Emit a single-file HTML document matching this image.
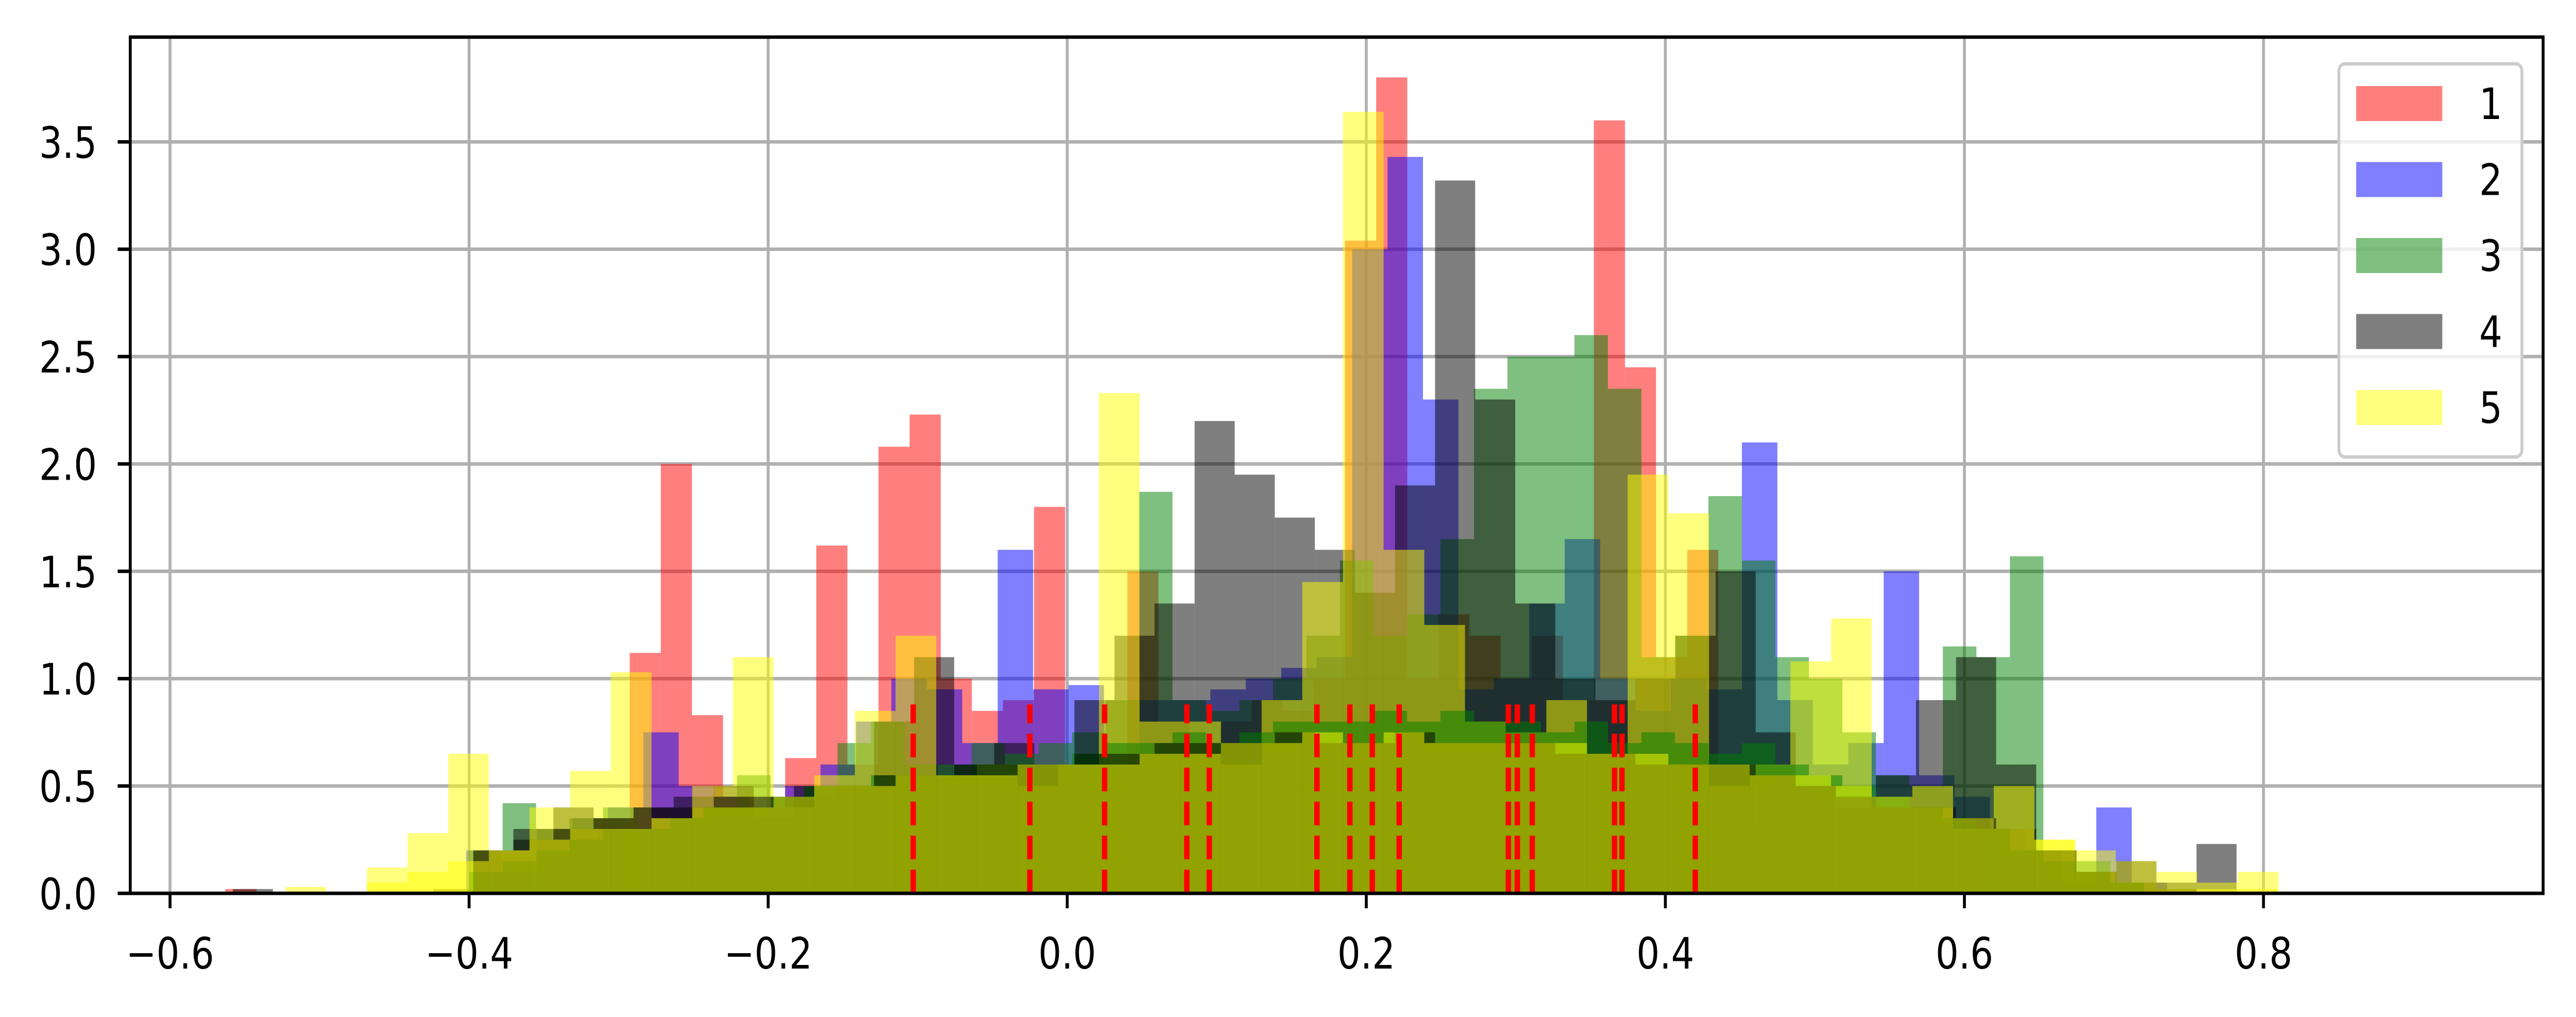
<!DOCTYPE html>
<html><head><meta charset="utf-8"><style>
html,body{margin:0;padding:0;background:#fff;width:100%;height:100%;overflow:hidden;}
svg{display:block;width:100vw;height:100vh;}
text{font-family:"DejaVu Sans","Liberation Sans",sans-serif;}
</style></head>
<body>
<svg id="chart" xmlns="http://www.w3.org/2000/svg" viewBox="0 0 5953 1974" preserveAspectRatio="none">
<rect x="0" y="0" width="5953" height="1974" fill="#fff"/>
<g id="grid"></g>
<g id="bars"></g>
<g id="vlines"></g>
<g id="axes"></g>
<g id="legend"></g>
</svg>
<script>
const xTicks = [-0.6,-0.4,-0.2,0.0,0.2,0.4,0.6,0.8];
const xTickLabels = ["\u22120.6","\u22120.4","\u22120.2","0.0","0.2","0.4","0.6","0.8"];
const yTicks = [0,0.5,1.0,1.5,2.0,2.5,3.0,3.5];
const yTickLabels = ["0.0","0.5","1.0","1.5","2.0","2.5","3.0","3.5"];
const seriesLabels = ["1","2","3","4","5"];

const redStart = -0.563, redWidth = 0.0208;
const redValues = [0.02,0,0,0,0,0,0,0,0,0,0,0,0.32,1.12,2.0,0.83,0.45,0.4,0.63,1.62,0.6,2.08,2.23,1.0,0.85,0.9,1.8,0.5,0.55,1.5,0.8,0.7,0.8,0.9,0.85,1.0,3.04,3.8,1.0,1.3,1.2,1.0,1.2,0.9,3.6,2.45,1.1,1.6,0.6,0.3];
const blueStart = -0.402, blueWidth = 0.0237;
const blueValues = [0.2,0.1,0.3,0.35,0.4,0.75,0.5,0.45,0.4,0.5,0.6,0.8,1.0,0.95,0.7,1.6,0.95,0.97,0.6,0.9,0.9,0.95,1.0,1.05,1.1,3.0,3.43,2.3,0.95,1.0,1.35,1.65,1.0,0.85,1.0,0.95,2.1,0.9,0.6,0.7,1.5,0.55,0.45,0.3,0.2,0.05,0.4,0.05];
const greenStart = -0.40, greenWidth = 0.0224;
const greenValues = [0.2,0.42,0.3,0.35,0.4,0.3,0.35,0.4,0.55,0.45,0.5,0.7,0.8,0.6,0.55,0.7,0.6,0.7,0.75,0.9,1.87,0.9,0.85,0.9,1.0,1.2,1.55,1.2,1.3,1.65,2.35,2.5,2.5,2.6,2.35,1.1,1.2,1.85,1.55,1.1,1.0,0.75,0.55,0.5,1.15,1.1,1.57,0.2,0.15,0.05];
const grayStart = -0.558, grayWidth = 0.0268;
const grayValues = [0.02,0,0,0,0,0.02,0.2,0.3,0.4,0.35,0.4,0.45,0.5,0.35,0.45,0.5,0.8,1.1,0.6,0.7,0.6,0.9,1.2,1.35,2.2,1.95,1.75,1.6,1.4,1.9,3.32,2.3,1.35,1.0,0.9,1.0,1.2,1.5,0.75,0.5,0.4,0.55,0.9,1.1,0.6,0.2,0.1,0.15,0.05,0.23];
const yellowStart = -0.55, yellowWidth = 0.0272;
const yellowValues = [0,0.03,0,0.12,0.28,0.65,0.2,0.4,0.57,1.03,0.35,0.5,1.1,0.4,0.55,0.85,1.2,0.55,0.6,0.5,0.6,2.33,0.8,0.8,0.6,0.9,1.45,3.64,1.6,1.25,0.8,0.75,0.9,0.65,1.95,1.77,0.5,0.6,1.08,1.28,0.4,0.5,0.3,0.5,0.25,0.1,0.05,0.02,0.02,0.1];
const extraGreenValues = [0.1,0.15,0.2,0.25,0.3,0.3,0.35,0.4,0.4,0.45,0.5,0.5,0.55,0.55,0.6,0.6,0.65,0.6,0.65,0.7,0.7,0.75,0.7,0.75,0.8,0.8,0.8,0.85,0.8,0.85,0.8,0.8,0.75,0.8,0.7,0.75,0.7,0.65,0.7,0.6,0.55,0.5,0.45,0.4,0.35,0.3,0.2,0.15,0.1,0.05];
const extraYellowValues = [0,0,0,0.05,0.1,0.15,0.2,0.25,0.3,0.3,0.35,0.4,0.4,0.45,0.5,0.5,0.55,0.55,0.55,0.6,0.6,0.6,0.65,0.65,0.7,0.7,0.75,0.7,0.75,0.7,0.7,0.7,0.7,0.65,0.65,0.6,0.6,0.55,0.55,0.5,0.45,0.4,0.35,0.3,0.25,0.2,0.15,0.1,0.05,0.02];
const extraGrayValues = [0,0,0,0,0,0,0.2,0.25,0.3,0.35,0.4,0.4,0.45,0.45,0.5,0.5,0.55,0.55,0.6,0.6,0.6,0.65,0.65,0.7,0.7,0.7,0.75,0.7,0.7,0.75,0.7,0.7,0.7,0.65,0.65,0.6,0.6,0.6,0.55,0.5,0.45,0.4,0.4,0.35,0.3,0.2,0.1,0.05,0.02,0];
const vlinePositions = [-0.103,-0.025,0.025,0.080,0.095,0.167,0.189,0.204,0.222,0.295,0.301,0.311,0.366,0.371,0.420];
const vlineHeight = 0.88;

const NS = "http://www.w3.org/2000/svg";
const L = 301, R = 5877, T = 72, B = 1734;
const xMin = -0.6266, xMax = 0.987, yMin = 0, yMax = 3.988;
function X(v){ return L + (v - xMin) / (xMax - xMin) * (R - L); }
function Y(v){ return B - (v - yMin) / (yMax - yMin) * (B - T); }
function mk(tag, attrs, parent){ const e = document.createElementNS(NS, tag); for (const k in attrs) e.setAttribute(k, attrs[k]); parent.appendChild(e); return e; }

const grid = document.getElementById('grid');
xTicks.forEach(function(t){
  const g = mk('line', {x1:X(t), x2:X(t), y1:T, y2:B, stroke:'#b0b0b0', 'stroke-width':6.7}, grid);
  
  
});
yTicks.forEach(function(t){
  const g = mk('line', {x1:L, x2:R, y1:Y(t), y2:Y(t), stroke:'#b0b0b0', 'stroke-width':6.7}, grid);
  
  
});

const bars = document.getElementById('bars');
function drawHist(start, width, values, color, name){
  values.forEach(function(v, i){
    if (v <= 0) return;
    const x0 = X(start + i * width), x1 = X(start + (i + 1) * width);
    const r = mk('rect', {x:x0, y:Y(v), width:x1 - x0, height:Y(0) - Y(v), fill:color, 'fill-opacity':0.5}, bars);
    
    
  });
}
drawHist(redStart, redWidth, redValues, '#ff0000', 'bar-series-1');
drawHist(blueStart, blueWidth, blueValues, '#0000ff', 'bar-series-2');
drawHist(greenStart, greenWidth, greenValues, '#008000', 'bar-series-3');
drawHist(grayStart, grayWidth, grayValues, '#000000', 'bar-series-4');
drawHist(yellowStart, yellowWidth, yellowValues, '#ffff00', 'bar-series-5');
drawHist(greenStart, greenWidth, extraGreenValues, '#008000', 'bar-base-green');
drawHist(grayStart, grayWidth, extraGrayValues, '#000000', 'bar-base-gray');
drawHist(yellowStart, yellowWidth, extraYellowValues, '#ffff00', 'bar-base-yellow');

const vl = document.getElementById('vlines');
vlinePositions.forEach(function(p){
  const l = mk('line', {x1:X(p), x2:X(p), y1:Y(0), y2:Y(vlineHeight), stroke:'#ff0000', 'stroke-width':12.5, 'stroke-dasharray':'46 20'}, vl);
  
  
});

const axes = document.getElementById('axes');
const frame = mk('rect', {x:L, y:T, width:R - L, height:B - T, fill:'none', stroke:'#000', 'stroke-width':6.7}, axes);


xTicks.forEach(function(t, i){
  const tk = mk('line', {x1:X(t), x2:X(t), y1:B, y2:B + 29, stroke:'#000', 'stroke-width':6.7}, axes);
  
  
  const tx = mk('text', {x:X(t), y:1880, 'font-size':84, 'text-anchor':'middle', fill:'#000'}, axes);
  tx.textContent = xTickLabels[i];
  
  
});
yTicks.forEach(function(t, i){
  const tk = mk('line', {x1:L - 29, x2:L, y1:Y(t), y2:Y(t), stroke:'#000', 'stroke-width':6.7}, axes);
  
  
  const tx = mk('text', {x:224, y:Y(t) + 31, 'font-size':84, 'text-anchor':'end', fill:'#000'}, axes);
  tx.textContent = yTickLabels[i];
  
  
});

const legend = document.getElementById('legend');
const lb = mk('rect', {x:5405, y:124, width:423, height:763, rx:14, fill:'#fff', 'fill-opacity':0.8, stroke:'#cccccc', 'stroke-width':6.7}, legend);


const legendColors = ['#ff0000','#0000ff','#008000','#000000','#ffff00'];
seriesLabels.forEach(function(s, i){
  const cy = 201 + i * 147.5;
  const p = mk('rect', {x:5445, y:cy - 34, width:199, height:68, fill:legendColors[i], 'fill-opacity':0.5}, legend);
  
  
  const t = mk('text', {x:5756, y:cy + 30, 'font-size':84, 'text-anchor':'middle', fill:'#000'}, legend);
  t.textContent = s;
  
  
});
</script>
</body></html>
